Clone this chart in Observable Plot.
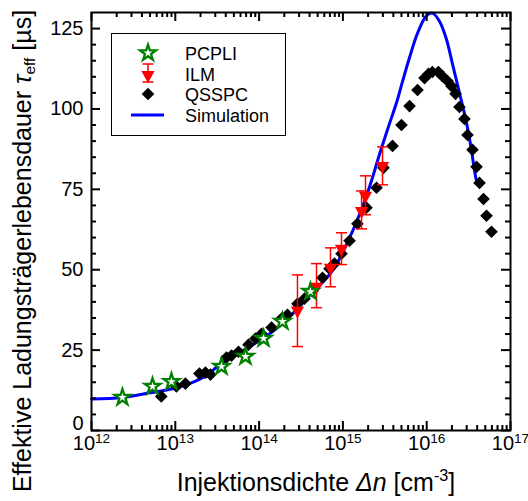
<!DOCTYPE html>
<html><head><meta charset="utf-8">
<script src="https://cdn.jsdelivr.net/npm/d3@7"></script>
<script src="https://cdn.jsdelivr.net/npm/@observablehq/plot@0.6"></script>
<style>
html,body{margin:0;padding:0;background:#fff;overflow:hidden;}
#wrap{position:relative;width:528px;height:501px;font-family:"Liberation Sans",Arial,sans-serif;}
#legend{position:absolute;left:111px;top:33px;}
</style></head><body><div id="wrap"></div>
<script>
// ---- data ----
const simX = [1e12, 2.34e12, 5.2e12, 9.27e12, 1.48e13, 2.36e13, 3.19e13, 5.83e13, 1.01e14, 1.61e14, 2.31e14, 3.99e14, 7.52e14, 1.2e15, 1.71e15, 2.19e15, 2.74e15, 3.5e15, 4.37e15, 5.14e15, 6.24e15, 7.76e15, 9.95e15, 1.17e16, 1.42e16, 1.72e16, 2.03e16, 2.46e16, 2.99e16, 3.43e16, 3.72e16, 3.93e16];
const simY = [9.8, 10.25, 11.8, 13.0, 14.6, 17.1, 19.9, 24.2, 28.0, 31.7, 35.4, 41.9, 49.7, 59.9, 69.5, 77.6, 86.0, 94.5, 102.0, 108.5, 116.0, 123.5, 129.0, 129.8, 127.3, 121.7, 114.0, 105.0, 95.6, 87.0, 80.8, 77.6];

const qsspcX = [6.8e12, 1.03e13, 1.32e13, 1.94e13, 2.29e13, 2.63e13, 4.08e13, 4.69e13, 5.68e13, 7.48e13, 9.06e13, 1.07e14, 1.41e14, 1.85e14, 2.18e14, 2.87e14, 3.48e14, 4.34e14, 5.71e14, 6.92e14, 7.94e14, 9.62e14, 1.20e15, 1.49e15, 1.91e15, 2.52e15, 3.05e15, 3.91e15, 5.00e15, 6.24e15, 7.76e15, 9.42e15, 1.05e16, 1.17e16, 1.38e16, 1.54e16, 1.77e16, 1.98e16, 2.21e16, 2.46e16, 2.82e16, 3.07e16, 3.52e16, 3.93e16, 4.27e16, 4.76e16, 5.17e16, 5.93e16];
const qsspcY = [10.6, 13.7, 14.6, 17.7, 18.0, 17.4, 22.7, 23.3, 24.5, 26.7, 28.6, 30.1, 32.0, 34.8, 36.0, 39.4, 41.0, 43.5, 47.5, 50.3, 51.9, 55.0, 59.0, 64.3, 69.3, 75.5, 81.7, 88.5, 95.0, 100.9, 105.9, 109.6, 110.9, 111.5, 111.5, 110.2, 108.7, 107.1, 104.7, 100.6, 96.9, 91.9, 87.3, 82.0, 77.0, 72.0, 66.8, 61.8];

const pcpliX = [2.34e12, 5.35e12, 9.0e12, 3.56e13, 6.88e13, 1.13e14, 1.90e14, 4.10e14];
const pcpliY = [10.3, 13.7, 15.2, 19.9, 23.0, 28.6, 33.9, 43.2];

const ilmX  = [2.87e14, 4.84e14, 7.11e14, 9.62e14, 1.67e15, 1.86e15, 2.97e15];
const ilmY  = [37.3, 44.7, 50.6, 56.5, 68.3, 73.0, 82.3];
const ilmLo = [26.1, 38.2, 44.7, 51.6, 62.7, 67.1, 76.4];
const ilmHi = [48.4, 51.9, 56.8, 61.5, 74.5, 79.2, 88.2];

const xTickValues = [1e12, 1e13, 1e14, 1e15, 1e16, 1e17];
const yTickValues = [0, 25, 50, 75, 100, 125];
const legendLabels = ["PCPLI", "ILM", "QSSPC", "Simulation"];

// ---- tables ----
const sim = simX.map((x, i) => ({x, y: simY[i]}));
const qsspc = qsspcX.map((x, i) => ({x, y: qsspcY[i]}));
const pcpli = pcpliX.map((x, i) => ({x, y: pcpliY[i]}));
const ilm = ilmX.map((x, i) => ({x, y: ilmY[i], lo: ilmLo[i], hi: ilmHi[i]}));

const xMinor = [];
for (const d of xTickValues.slice(0, -1)) for (let k = 2; k <= 9; k++) xMinor.push(d * k);
const yMinor = [];
for (let v = 5; v < 130; v += 5) if (v % 25 !== 0) yMinor.push(v);

const FONT = '"Liberation Sans", Arial, Helvetica, sans-serif';
const W = 528, H = 501, mL = 91, mR = 18, mT = 12, mB = 71;
const fw = W - mL - mR, fh = H - mT - mB;
const MAJ = 9, MIN = 5;

const triDown = {draw(ctx, size) { const r = Math.sqrt(size / Math.PI);
  ctx.moveTo(-1.25 * r, -0.75 * r); ctx.lineTo(1.25 * r, -0.75 * r); ctx.lineTo(0, 1.5 * r); ctx.closePath(); }};
const capSym = {draw(ctx, size) { const r = Math.sqrt(size / Math.PI);
  ctx.moveTo(-r, 0); ctx.lineTo(r, 0); }};

const tickStyle = {stroke: "black", strokeWidth: 2};

const chart = Plot.plot({
  width: W, height: H, marginLeft: mL, marginRight: mR, marginTop: mT, marginBottom: mB,
  style: {fontFamily: FONT, background: "white", color: "black"},
  x: {type: "log", domain: [1e12, 1e17]},
  y: {domain: [0, 130]},
  marks: [
    Plot.line(sim, {x: "x", y: "y", stroke: "#0000ff", strokeWidth: 3, curve: "catmull-rom"}),
    Plot.dot(qsspc, {x: "x", y: "y", symbol: "diamond2", r: 5.7, fill: "black", stroke: "none"}),
    Plot.ruleX(ilm, {x: "x", y1: "lo", y2: "hi", stroke: "red", strokeWidth: 1.5}),
    Plot.dot(ilm, {x: "x", y: "lo", symbol: capSym, r: 5.5, fill: "none", stroke: "red", strokeWidth: 1.5}),
    Plot.dot(ilm, {x: "x", y: "hi", symbol: capSym, r: 5.5, fill: "none", stroke: "red", strokeWidth: 1.5}),
    Plot.dot(ilm, {x: "x", y: "y", symbol: triDown, r: 5.3, fill: "red", stroke: "none"}),
    Plot.dot(pcpli, {x: "x", y: "y", symbol: "star", r: 5, fill: "white", stroke: "#008000", strokeWidth: 2.3}),
    // inward ticks on all four sides
    Plot.tickX(xTickValues, {x: d => d, insetTop: fh - MAJ, ...tickStyle}),
    Plot.tickX(xTickValues, {x: d => d, insetBottom: fh - MAJ, ...tickStyle}),
    Plot.tickX(xMinor, {x: d => d, insetTop: fh - MIN, ...tickStyle}),
    Plot.tickX(xMinor, {x: d => d, insetBottom: fh - MIN, ...tickStyle}),
    Plot.tickY(yTickValues, {y: d => d, insetRight: fw - MAJ, ...tickStyle}),
    Plot.tickY(yTickValues, {y: d => d, insetLeft: fw - MAJ, ...tickStyle}),
    Plot.tickY(yMinor, {y: d => d, insetRight: fw - MIN, ...tickStyle}),
    Plot.tickY(yMinor, {y: d => d, insetLeft: fw - MIN, ...tickStyle}),
    Plot.frame({stroke: "black", strokeWidth: 2}),
    Plot.axisX({ticks: xTickValues, tickSize: 0, tickPadding: 5, fontSize: 20, label: null,
      tickFormat: d => "10^" + Math.round(Math.log10(d))}),
    Plot.axisY({ticks: yTickValues, tickSize: 0, tickPadding: 8, fontSize: 20, label: null})
  ]
});
document.getElementById("wrap").appendChild(chart);

const svg = d3.select(chart);
svg.style("overflow", "visible");
// superscript exponents on x tick labels
svg.selectAll('g[aria-label="x-axis tick label"] text').each(function () {
  const parts = this.textContent.split("^");
  this.textContent = parts[0];
  d3.select(this).append("tspan").attr("dy", "-0.5em").attr("font-size", "0.68em").text(parts[1]);
});
// lift the "0" label slightly, as in the reference
svg.selectAll('g[aria-label="y-axis tick label"] text').each(function () {
  if (this.textContent.trim() === "0") {
    const t = this.getAttribute("transform") || "";
    this.setAttribute("transform", (t + " translate(0,-7)").trim());
  }
});

// axis titles
const xt = svg.append("text").attr("x", 316).attr("y", 491).attr("text-anchor", "middle")
  .attr("font-size", 25).attr("font-family", FONT).attr("fill", "black");
xt.append("tspan").text("Injektionsdichte ");
xt.append("tspan").attr("font-style", "italic").text("Δn");
xt.append("tspan").text(" [cm");
xt.append("tspan").attr("font-size", "0.65em").attr("dy", "-0.6em").text("-3");
xt.append("tspan").attr("dy", "0.39em").text("]");

const yt = svg.append("text").attr("transform", "translate(31,251) rotate(-90)").attr("text-anchor", "middle")
  .attr("font-size", 25).attr("font-family", FONT).attr("fill", "black");
yt.append("tspan").text("Effektive Ladungsträgerlebensdauer ");
yt.append("tspan").attr("font-style", "italic").text("τ");
yt.append("tspan").attr("font-size", "0.62em").attr("dy", "0.25em").text("eff");
yt.append("tspan").attr("dy", "-0.155em").text(" [µs]");

// legend
const lg = d3.select("#wrap").append("svg").attr("id", "legend").attr("width", 176).attr("height", 104)
  .style("font-family", FONT);
lg.append("rect").attr("x", 0.5).attr("y", 0.5).attr("width", 174).attr("height", 102)
  .attr("fill", "white").attr("stroke", "black").attr("stroke-width", 1);
const sx = 37, rows = [20, 41, 61, 82];
lg.append("path").attr("transform", `translate(${sx},${rows[0]})`)
  .attr("d", d3.symbol(d3.symbolStar, Math.PI * 5 * 5)()).attr("fill", "white").attr("stroke", "#008000").attr("stroke-width", 2.3);
lg.append("line").attr("x1", sx).attr("x2", sx).attr("y1", 31).attr("y2", 49).attr("stroke", "red").attr("stroke-width", 1.5);
lg.append("line").attr("x1", sx - 5.5).attr("x2", sx + 5.5).attr("y1", 31).attr("y2", 31).attr("stroke", "red").attr("stroke-width", 1.5);
lg.append("line").attr("x1", sx - 5.5).attr("x2", sx + 5.5).attr("y1", 49).attr("y2", 49).attr("stroke", "red").attr("stroke-width", 1.5);
lg.append("path").attr("transform", `translate(${sx},${rows[1] + 1})`)
  .attr("d", d3.symbol(triDown, Math.PI * 5.3 * 5.3)()).attr("fill", "red");
lg.append("path").attr("transform", `translate(${sx},${rows[2]})`)
  .attr("d", d3.symbol(d3.symbolDiamond2, Math.PI * 5.7 * 5.7)()).attr("fill", "black");
lg.append("line").attr("x1", 20).attr("x2", 53).attr("y1", rows[3]).attr("y2", rows[3]).attr("stroke", "#0000ff").attr("stroke-width", 3);
legendLabels.forEach((t, i) => {
  lg.append("text").attr("x", 74).attr("y", rows[i] + 6.5).attr("font-size", 18).attr("fill", "black").text(t);
});
</script></body></html>
